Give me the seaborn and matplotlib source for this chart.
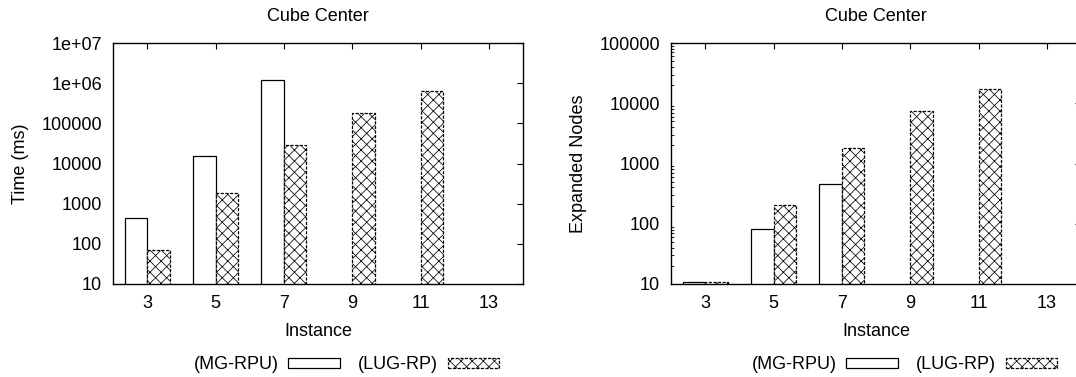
import numpy as np
import pandas as pd
import matplotlib
matplotlib.use("Agg")
import matplotlib.pyplot as plt
import seaborn as sns
from matplotlib.patches import Patch
from matplotlib.ticker import FixedLocator, FixedFormatter, LogLocator, NullFormatter

# Instances (cube size) and measured values; NaN = not solved
instances = ["3", "5", "7", "9", "11", "13"]
time_mg_rpu = [430, 15000, 1190000, np.nan, np.nan, np.nan]
time_lug_rp = [70, 1800, 28500, 176000, 630000, np.nan]
nodes_mg_rpu = [11, 83, 450, np.nan, np.nan, np.nan]
nodes_lug_rp = [11, 203, 1780, 7300, 17000, np.nan]
methods = ["(MG-RPU)", "(LUG-RP)"]

time_ticks = [10, 100, 1000, 10000, 100000, 1e6, 1e7]
time_tick_labels = ["10", "100", "1000", "10000", "100000", "1e+06", "1e+07"]
node_ticks = [10, 100, 1000, 10000, 100000]
node_tick_labels = ["10", "100", "1000", "10000", "100000"]

sns.set_theme(style="white")
plt.rcParams["font.family"] = ["Liberation Sans", "DejaVu Sans"]
plt.rcParams["hatch.linewidth"] = 0.55
for key in ["text.color", "axes.labelcolor", "xtick.color", "ytick.color"]:
    plt.rcParams[key] = "black"

FS = 13
W, H = 1076, 377
fig = plt.figure(figsize=(W / 100, H / 100), dpi=100)
HATCH = "xxx"
DASH = (0, (2.5, 1.2))


def long_frame(a, b):
    return pd.DataFrame({
        "Instance": instances * 2,
        "Method": [methods[0]] * len(instances) + [methods[1]] * len(instances),
        "Value": list(a) + list(b),
    })


def panel(rect, a, b, ylabel, ticks, labels, ylim):
    ax = fig.add_axes(rect)
    df = long_frame(a, b)
    sns.barplot(data=df, x="Instance", y="Value", hue="Method", order=instances,
                hue_order=methods, palette=["white", "white"], width=0.66,
                edgecolor="black", linewidth=0.9, ax=ax,
                legend=False, saturation=1)
    for c in ax.containers[1]:
        c.set_hatch(HATCH)
        c.set_linestyle(DASH)
    ax.set_yscale("log")
    ax.set_ylim(*ylim)
    ax.set_xlim(-0.5, 5.5)
    ax.yaxis.set_major_locator(FixedLocator(ticks))
    ax.yaxis.set_major_formatter(FixedFormatter(labels))
    ax.yaxis.set_minor_locator(LogLocator(base=10, subs=np.arange(2, 10)))
    ax.yaxis.set_minor_formatter(NullFormatter())
    ax.tick_params(axis="both", which="major", direction="in", length=4.5, width=0.8,
                   top=True, right=True, labelsize=FS, color="black",
                   labelcolor="black")
    ax.tick_params(axis="y", which="minor", direction="in", length=2, width=0.6,
                   left=True, right=True, color="black")
    ax.tick_params(axis="y", which="major", pad=8)
    ax.tick_params(axis="x", which="major", pad=8)
    for s in ax.spines.values():
        s.set_color("black")
        s.set_linewidth(1.0)
    ax.set_title("Cube Center", fontsize=FS, pad=16, color="black")
    ax.set_xlabel("Instance", fontsize=FS, labelpad=8, color="black")
    ax.set_ylabel(ylabel, fontsize=FS, labelpad=9, color="black")
    handles = [Patch(facecolor="white", edgecolor="black", linewidth=0.9),
               Patch(facecolor="white", edgecolor="black", linewidth=0.9,
                     hatch=HATCH, linestyle=DASH)]
    leg = ax.legend(handles, methods, loc="center right",
                    bbox_to_anchor=(0.942, -0.335), ncol=2, frameon=False,
                    markerfirst=False, handlelength=2.85, handleheight=0.45,
                    columnspacing=1.0, handletextpad=0.55, fontsize=FS,
                    borderpad=0, borderaxespad=0)
    for t in leg.get_texts():
        t.set_color("black")
    return ax


y0 = (H - 284) / H
h = 241 / H
panel([113 / W, y0, 410 / W, h], time_mg_rpu, time_lug_rp, "Time (ms)",
      time_ticks, time_tick_labels, (10, 1e7))
panel([671 / W, y0, 410 / W, h], nodes_mg_rpu, nodes_lug_rp, "Expanded Nodes",
      node_ticks, node_tick_labels, (10, 1e5))

fig.savefig("out.png", dpi=100)
